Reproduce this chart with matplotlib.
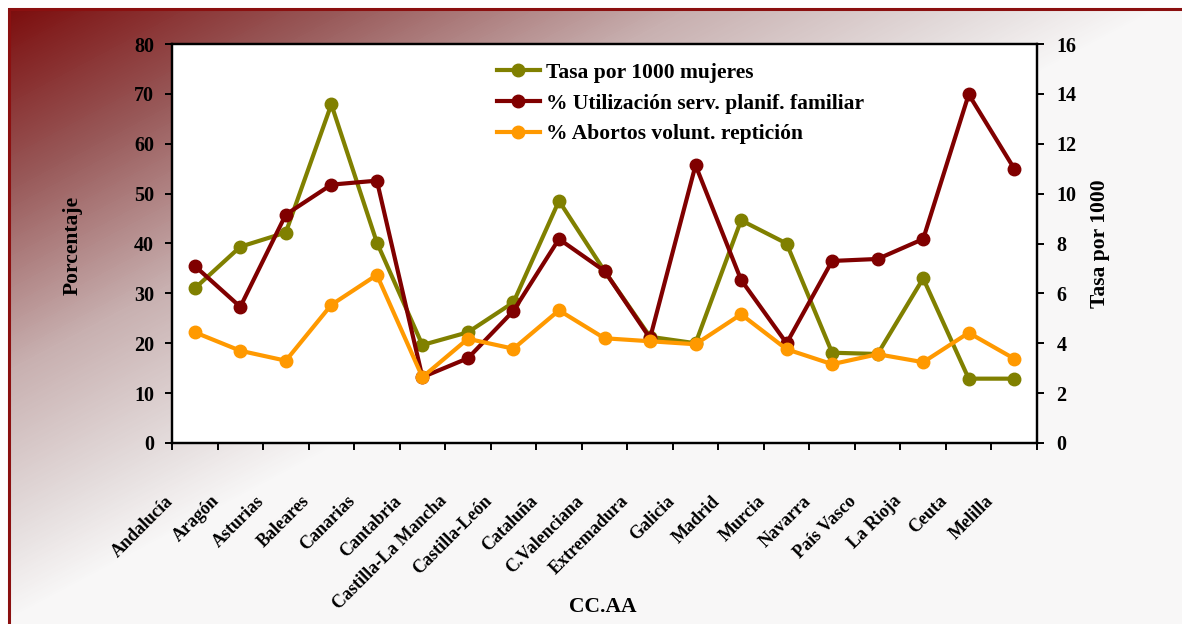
import numpy as np
import matplotlib
matplotlib.use("Agg")
import matplotlib.pyplot as plt
from matplotlib.colors import LinearSegmentedColormap
from matplotlib.transforms import ScaledTranslation
from matplotlib.ticker import FixedLocator

categories = ["Andalucía", "Aragón", "Asturias", "Baleares", "Canarias", "Cantabria",
              "Castilla-La Mancha", "Castilla-León", "Cataluña", "C.Valenciana",
              "Extremadura", "Galicia", "Madrid", "Murcia", "Navarra", "País Vasco",
              "La Rioja", "Ceuta", "Melilla"]
tasa = [6.2, 7.87, 8.44, 13.58, 8.04, 3.93, 4.44, 5.64, 9.71, 6.9,
        4.26, 4.0, 8.93, 8.0, 3.62, 3.57, 6.6, 2.58, 2.58]
utilizacion = [35.5, 27.3, 45.8, 51.8, 52.6, 13.2, 17.0, 26.5, 40.9, 34.5,
               21.0, 55.7, 32.7, 20.0, 36.5, 36.9, 40.9, 69.9, 55.0]
abortos = [22.2, 18.5, 16.5, 27.7, 33.7, 13.2, 20.9, 18.9, 26.6, 21.0,
           20.4, 19.8, 25.8, 18.8, 15.8, 17.8, 16.2, 22.1, 16.9]
left_ticks = [0, 10, 20, 30, 40, 50, 60, 70, 80]
right_ticks = [0, 2, 4, 6, 8, 10, 12, 14, 16]

W, H = 1182, 624
fig = plt.figure(figsize=(W / 100, H / 100), dpi=100)
fig.patch.set_facecolor("white")

# background gradient
bg = fig.add_axes([0, 0, 1, 1], zorder=-10)
yy, xx = np.mgrid[0:H, 0:W]
t = np.clip(0.00085 * xx + 0.0016 * yy, 0, 1)
cmap = LinearSegmentedColormap.from_list(
    "bg", [(0, "#7a0808"), (0.3, "#985858"), (0.6, "#c8b0b0"),
           (0.85, "#e4dcdc"), (1, "#f8f7f7")])
img = cmap(t)
img[:8, :, :3] = 1.0
img[:, :8, :3] = 1.0
bg.imshow(img, extent=[0, W, H, 0], aspect="auto", interpolation="bilinear")
bg.plot([8, W], [9, 9], color="#8b1010", lw=2.2, solid_capstyle="butt")
bg.plot([9, 9], [8, H], color="#8b1010", lw=2.2, solid_capstyle="butt")
bg.set_xlim(0, W)
bg.set_ylim(H, 0)
bg.axis("off")

font = "Liberation Serif"
ax = fig.add_axes([172 / W, 1 - 443 / H, (1037 - 172) / W, (443 - 44) / H])
ax2 = ax.twinx()
ax.set_zorder(ax2.get_zorder() + 1)
ax.patch.set_visible(False)
ax2.patch.set_visible(True)
ax2.patch.set_facecolor("white")

x = np.arange(len(categories))
l1, = ax2.plot(x, tasa, color="#808000", lw=3, marker="o", ms=9, label="Tasa por 1000 mujeres")
l2, = ax.plot(x, utilizacion, color="#800000", lw=3, marker="o", ms=9,
              label="% Utilización serv. planif. familiar")
l3, = ax.plot(x, abortos, color="#ff9900", lw=3, marker="o", ms=9,
              label="% Abortos volunt. reptición")

ax.set_xlim(-0.5, len(categories) - 0.5)
ax.set_ylim(0, 80)
ax2.set_ylim(0, 16)
ax.set_yticks(left_ticks)
ax2.set_yticks(right_ticks)

for a in (ax, ax2):
    for s in a.spines.values():
        s.set_linewidth(1.6)
        s.set_color("black")

ax.tick_params(axis="y", direction="out", length=5, width=1.4, pad=8)
ax2.tick_params(axis="y", direction="out", length=5, width=1.4, pad=9)
for lbl in ax.get_yticklabels() + ax2.get_yticklabels():
    lbl.set_fontfamily(font)
    lbl.set_fontweight("bold")
    lbl.set_fontsize(14.5)

ax.set_xticks(x)
ax.set_xticklabels(categories, rotation=45, ha="right", va="center",
                   rotation_mode="anchor", fontfamily=font, fontweight="bold", fontsize=13)
ax.tick_params(axis="x", which="major", length=0, pad=40)
ax.xaxis.set_minor_locator(FixedLocator(np.arange(-0.5, len(categories), 1.0)))
ax.tick_params(axis="x", which="minor", direction="out", length=5, width=1.4)
off = ScaledTranslation(-24 / 100, 0, fig.dpi_scale_trans)
for lbl in ax.get_xticklabels():
    lbl.set_transform(lbl.get_transform() + off)
ax2.tick_params(axis="x", length=0)

fig.text(73 / W, 1 - 245 / H, "Porcentaje", rotation=90, ha="center", va="center",
         fontfamily=font, fontweight="bold", fontsize=15.5)
fig.text(1100 / W, 1 - 244 / H, "Tasa por 1000", rotation=90, ha="center", va="center",
         fontfamily=font, fontweight="bold", fontsize=15.5)
fig.text(603 / W, 1 - 607 / H, "CC.AA", ha="center", va="center",
         fontfamily=font, fontweight="bold", fontsize=15.5)

leg = ax.legend(handles=[l1, l2, l3], loc="upper left",
                bbox_to_anchor=((488 - 172) / (1037 - 172), 1 - 10 / 399),
                frameon=False, prop={"family": font, "weight": "bold", "size": 15.5},
                handlelength=2.0, handletextpad=0.3, labelspacing=0.5, borderaxespad=0)

fig.savefig("out.png", dpi=100)
